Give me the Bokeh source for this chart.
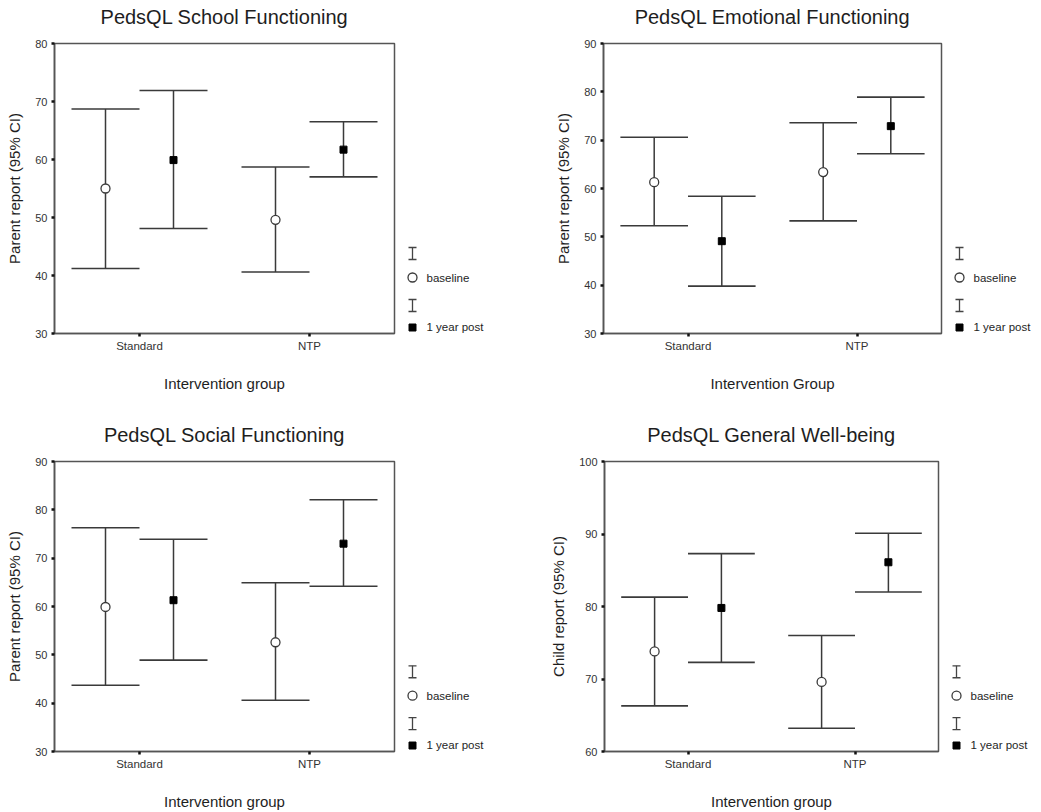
from bokeh.plotting import figure
from bokeh.models import FactorRange, Range1d, FixedTicker, ColumnDataSource
from bokeh.transform import dodge
from bokeh.layouts import row, column
from bokeh.embed import file_html
from bokeh.resources import INLINE
from bokeh.core.properties import value

# ---------------- data ----------------
groups = ["Standard", "NTP"]

school_base_mean = [55.0, 49.6]
school_base_lo = [41.2, 40.6]
school_base_hi = [68.7, 58.7]
school_post_mean = [59.9, 61.7]
school_post_lo = [48.1, 57.0]
school_post_hi = [71.9, 66.5]

emot_base_mean = [61.3, 63.4]
emot_base_lo = [52.3, 53.3]
emot_base_hi = [70.6, 73.6]
emot_post_mean = [49.1, 72.9]
emot_post_lo = [39.8, 67.2]
emot_post_hi = [58.4, 78.9]

social_base_mean = [59.9, 52.6]
social_base_lo = [43.7, 40.6]
social_base_hi = [76.3, 64.9]
social_post_mean = [61.3, 73.0]
social_post_lo = [48.9, 64.2]
social_post_hi = [73.9, 82.1]

well_base_mean = [73.8, 69.6]
well_base_lo = [66.3, 63.2]
well_base_hi = [81.3, 76.0]
well_post_mean = [79.8, 86.1]
well_post_lo = [72.3, 82.0]
well_post_hi = [87.3, 90.1]

series_labels = ["baseline", "1 year post"]

FONT = "Liberation Sans"
INK = "#1e1e1e"
LINE = "#3a3a3a"
FRAME = "#555555"


def make_panel(title, ylabel, xlabel, y0, y1, bm, blo, bhi, pm, plo, phi,
               width, height, left, top, bottom, xstand):
    xr = FactorRange(factors=groups, range_padding=0)
    p = figure(x_range=xr, y_range=Range1d(y0, y1), width=width, height=height,
               output_backend="svg", toolbar_location=None, tools="",
               min_border_left=left, min_border_right=4,
               min_border_top=top, min_border_bottom=bottom, title=title)
    src = ColumnDataSource(dict(g=groups, bm=bm, blo=blo, bhi=bhi,
                                pm=pm, plo=plo, phi=phi))
    for off, m, lo, hi in ((-0.2, "bm", "blo", "bhi"), (0.2, "pm", "plo", "phi")):
        xc = dodge("g", off, range=xr)
        xl = dodge("g", off - 0.2, range=xr)
        xh = dodge("g", off + 0.2, range=xr)
        p.segment(x0=xc, y0=lo, x1=xc, y1=hi, source=src, line_color=LINE, line_width=1.5)
        p.segment(x0=xl, y0=hi, x1=xh, y1=hi, source=src, line_color=LINE, line_width=1.6)
        p.segment(x0=xl, y0=lo, x1=xh, y1=lo, source=src, line_color=LINE, line_width=1.6)
    p.scatter(x=dodge("g", -0.2, range=xr), y="bm", source=src, marker="circle",
              size=9, fill_color="white", line_color=LINE, line_width=1.3)
    p.scatter(x=dodge("g", 0.2, range=xr), y="pm", source=src, marker="square",
              size=7, fill_color="black", line_color="black")

    p.title.align = "center"
    p.title.text_font = FONT
    p.title.text_font_size = "20px"
    p.title.text_font_style = "normal"
    p.title.text_color = INK
    p.title.standoff = 2
    try:
        p.title.padding = dict(left=0, right=0, top=0, bottom=15)
    except Exception:
        p.title.standoff = 18

    p.xgrid.visible = False
    p.ygrid.visible = False
    p.outline_line_color = FRAME
    p.outline_line_width = 1.5
    p.background_fill_color = "white"
    p.border_fill_color = "white"

    p.yaxis.ticker = FixedTicker(ticks=list(range(y0, y1 + 1, 10)))
    for ax in (p.xaxis[0], p.yaxis[0]):
        ax.axis_line_color = FRAME
        ax.axis_line_width = 1.6
        ax.major_tick_line_color = "#111111"
        ax.major_tick_line_width = 2.5
        ax.major_tick_in = 0
        ax.major_tick_out = 3
        ax.minor_tick_line_color = None
        ax.major_label_text_font = FONT
        ax.major_label_text_color = "#333333"
        ax.axis_label_text_font = FONT
        ax.axis_label_text_font_style = "normal"
        ax.axis_label_text_font_size = "15px"
        ax.axis_label_text_color = INK
    p.yaxis.axis_label = ylabel
    p.yaxis.major_label_text_font_size = "11px"
    p.yaxis.major_label_standoff = 4
    p.yaxis.axis_label_standoff = 9
    p.xaxis.axis_label = xlabel
    p.xaxis.major_label_text_font_size = "11.5px"
    p.xaxis.major_label_standoff = 3
    p.xaxis.axis_label_standoff = xstand
    return p


def make_legend(width, height, top, bottom):
    fh = height - top - bottom
    lg = figure(width=width, height=height, x_range=Range1d(0, width), y_range=Range1d(0, fh),
                min_border_left=0, min_border_right=0, min_border_top=top,
                min_border_bottom=bottom, toolbar_location=None, tools="",
                output_backend="svg", x_axis_location=None, y_axis_location=None)
    lg.grid.visible = False
    lg.outline_line_color = None
    lg.border_fill_color = "white"
    ix = [14, 14]
    iy = [80, 28]
    lg.segment(x0=ix, y0=[y - 6 for y in iy], x1=ix, y1=[y + 6 for y in iy],
               line_color="#444444", line_width=1.3)
    lg.segment(x0=[x - 4 for x in ix] * 2, y0=[y - 6 for y in iy] + [y + 6 for y in iy],
               x1=[x + 4 for x in ix] * 2, y1=[y - 6 for y in iy] + [y + 6 for y in iy],
               line_color="#444444", line_width=1.3)
    lg.scatter(x=[14], y=[56], marker="circle", size=9, fill_color="white",
               line_color=LINE, line_width=1.3)
    lg.scatter(x=[14], y=[6], marker="square", size=7, fill_color="black", line_color="black")
    lg.text(x=[28, 28], y=[56, 7], text=series_labels, text_font=value(FONT),
            text_font_size="11.5px", text_baseline="middle", text_align="left",
            text_color=INK)
    return lg


TOP_H = 400
BOT_H = 412

p1 = make_panel("PedsQL School Functioning", "Parent report (95% CI)", "Intervention group",
                30, 80, school_base_mean, school_base_lo, school_base_hi,
                school_post_mean, school_post_lo, school_post_hi,
                398, TOP_H, 54, 43, 67, 20)
l1 = make_legend(122, TOP_H, 43, 67)
p2 = make_panel("PedsQL Emotional Functioning", "Parent report (95% CI)", "Intervention Group",
                30, 90, emot_base_mean, emot_base_lo, emot_base_hi,
                emot_post_mean, emot_post_lo, emot_post_hi,
                425, TOP_H, 83, 43, 67, 20)
l2 = make_legend(96, TOP_H, 43, 67)
p3 = make_panel("PedsQL Social Functioning", "Parent report (95% CI)", "Intervention group",
                30, 90, social_base_mean, social_base_lo, social_base_hi,
                social_post_mean, social_post_lo, social_post_hi,
                398, BOT_H, 54, 61, 60, 20)
l3 = make_legend(122, BOT_H, 61, 60)
p4 = make_panel("PedsQL General Well-being", "Child report (95% CI)", "Intervention group",
                60, 100, well_base_mean, well_base_lo, well_base_hi,
                well_post_mean, well_post_lo, well_post_hi,
                422, BOT_H, 84, 61, 60, 20)
l4 = make_legend(99, BOT_H, 61, 60)

layout = column(row(p1, l1, p2, l2), row(p3, l3, p4, l4))

open("out.html", "w").write(file_html(layout, INLINE))
